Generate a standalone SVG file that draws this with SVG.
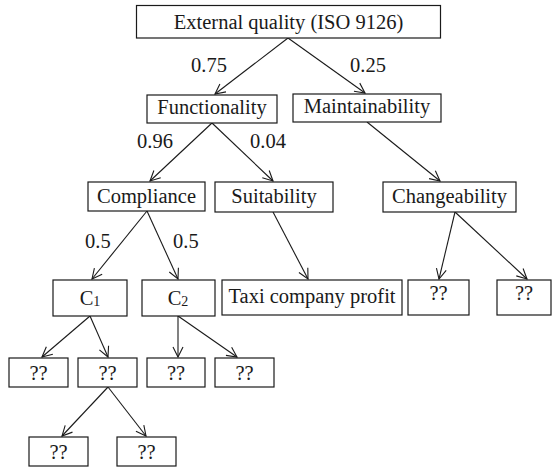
<svg xmlns="http://www.w3.org/2000/svg" width="553" height="467" viewBox="0 0 553 467">
<style>
rect{fill:#fff;stroke:#1a1a1a;stroke-width:1.2}
text{font-family:"Liberation Serif","Times New Roman",serif;font-size:20.5px;fill:#1a1a1a}
.c{text-anchor:middle}
.e line{stroke:#1a1a1a;stroke-width:1.1;marker-end:url(#ah)}
</style>
<defs>
<marker id="ah" markerUnits="userSpaceOnUse" markerWidth="14" markerHeight="14" viewBox="0 0 14 14" refX="12" refY="7" orient="auto">
<path d="M2,2 L12,7 L2,12" fill="none" stroke="#1a1a1a" stroke-width="1.1"/>
</marker>
</defs>
<rect x="0" y="0" width="553" height="467" style="stroke:none"/>
<g id="edges" class="e">
<line x1="288" y1="38" x2="215" y2="94"/>
<line x1="288" y1="38" x2="365" y2="93"/>
<line x1="212" y1="123" x2="150" y2="181"/>
<line x1="212" y1="123" x2="273" y2="181"/>
<line x1="367" y1="122" x2="440" y2="181"/>
<line x1="147" y1="211" x2="92" y2="279"/>
<line x1="147" y1="211" x2="178" y2="279"/>
<line x1="273" y1="212" x2="308" y2="279"/>
<line x1="455" y1="212" x2="439" y2="279"/>
<line x1="455" y1="212" x2="527" y2="279"/>
<line x1="90" y1="316" x2="42" y2="357"/>
<line x1="90" y1="316" x2="108" y2="357"/>
<line x1="178" y1="316" x2="178" y2="357"/>
<line x1="178" y1="316" x2="237" y2="357"/>
<line x1="108" y1="387" x2="62" y2="436"/>
<line x1="108" y1="387" x2="146" y2="436"/>
</g>
<g id="labels">
<text x="191" y="72">0.75</text>
<text x="350" y="72">0.25</text>
<text x="137" y="148">0.96</text>
<text x="250" y="148">0.04</text>
<text x="85" y="248">0.5</text>
<text x="173" y="248">0.5</text>
</g>
<g id="n-ext"><rect x="136.5" y="5.5" width="304" height="32.5"/><text class="c" x="288.5" y="29">External quality (ISO 9126)</text></g>
<g id="n-func"><rect x="147" y="95" width="130" height="28"/><text class="c" x="212" y="114">Functionality</text></g>
<g id="n-maint"><rect x="293" y="94" width="148" height="28"/><text class="c" x="367" y="113">Maintainability</text></g>
<g id="n-compl"><rect x="88" y="182" width="117" height="29"/><text class="c" x="146.5" y="203">Compliance</text></g>
<g id="n-suit"><rect x="215" y="182" width="118" height="30"/><text class="c" x="274" y="203">Suitability</text></g>
<g id="n-change"><rect x="383" y="182" width="133" height="30"/><text class="c" x="449.5" y="203">Changeability</text></g>
<g id="n-c1"><rect x="53" y="280" width="74" height="36"/><text class="c" x="90" y="305">C<tspan font-size="14" dy="1">1</tspan></text></g>
<g id="n-c2"><rect x="142" y="280" width="73" height="36"/><text class="c" x="178" y="305">C<tspan font-size="14" dy="1">2</tspan></text></g>
<g id="n-taxi"><rect x="222" y="280" width="180" height="35"/><text class="c" x="312" y="303">Taxi company profit</text></g>
<g id="n-q1"><rect x="408" y="280" width="61" height="35"/><text class="c" x="438.5" y="300">??</text></g>
<g id="n-q2"><rect x="497" y="280" width="54" height="35"/><text class="c" x="524" y="300">??</text></g>
<g id="n-q3"><rect x="9" y="358" width="59" height="29"/><text class="c" x="38.5" y="380">??</text></g>
<g id="n-q4"><rect x="78" y="358" width="59" height="29"/><text class="c" x="107.5" y="380">??</text></g>
<g id="n-q5"><rect x="147" y="358" width="58" height="29"/><text class="c" x="176" y="380">??</text></g>
<g id="n-q6"><rect x="215" y="358" width="59" height="29"/><text class="c" x="244.5" y="380">??</text></g>
<g id="n-q7"><rect x="29" y="437" width="59" height="29"/><text class="c" x="58.5" y="459">??</text></g>
<g id="n-q8"><rect x="117" y="437" width="59" height="29"/><text class="c" x="146.5" y="459">??</text></g>
</svg>
